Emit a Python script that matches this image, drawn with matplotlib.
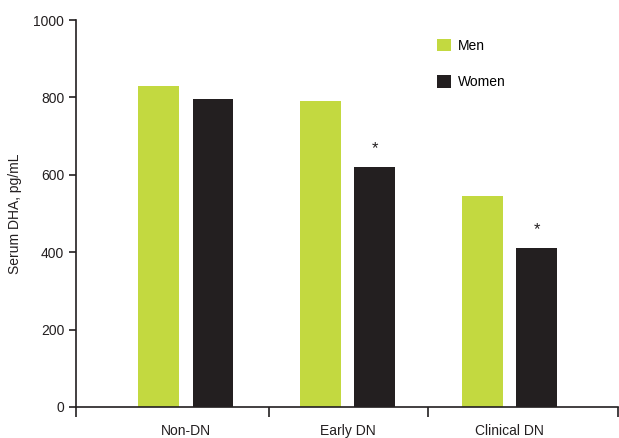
import numpy as np
import matplotlib
matplotlib.use("Agg")
import matplotlib.pyplot as plt

plt.rcParams["font.family"] = ["Liberation Sans", "DejaVu Sans"]

groups = ["Non-DN", "Early DN", "Clinical DN"]
men = [830, 790, 545]
women = [795, 620, 410]
women_sig = [False, True, True]

GREEN = "#c3d940"
DARK = "#231f20"

fig = plt.figure(figsize=(6.19, 4.38), dpi=100)
ax = fig.add_axes([0.1228, 0.0708, 0.8752, 0.8835])

x = np.arange(len(groups))
w = 0.253
off = 0.167
ax.bar(x - off, men, width=w, color=GREEN, label="Men")
ax.bar(x + off, women, width=w, color=DARK, label="Women")

for xi, v, sig in zip(x, women, women_sig):
    if sig:
        ax.annotate("*", (xi + off, v), xytext=(0, 8), textcoords="offset points",
                    ha="center", va="bottom", fontsize=12, color=DARK)

ax.set_xlim(-0.679, 2.667)
ax.set_ylim(0, 1000)
ax.set_yticks(np.arange(0, 1001, 200))

# group separators as major ticks, names as minor ticks
ax.set_xticks([-0.679, 0.51, 1.496, 2.667])
ax.set_xticklabels([])
ax.set_xticks(x, minor=True)
ax.set_xticklabels(groups, minor=True)
ax.tick_params(axis="x", which="major", direction="out", length=7, width=1.2, color=DARK)
ax.tick_params(axis="x", which="minor", length=0, pad=12, labelsize=10, labelcolor=DARK)
ax.tick_params(axis="y", direction="out", length=5, width=1.2, color=DARK, labelsize=10,
               labelcolor=DARK)

for s in ["top", "right"]:
    ax.spines[s].set_visible(False)
for s in ["left", "bottom"]:
    ax.spines[s].set_linewidth(1.2)
    ax.spines[s].set_color(DARK)

ax.set_ylabel("Serum DHA, pg/mL", fontsize=10, color=DARK, labelpad=8)

ax.legend(loc="upper left", bbox_to_anchor=(437 / 619, 1 - 39 / 438),
          bbox_transform=fig.transFigure, frameon=False, fontsize=10,
          handlelength=1.0, handleheight=1.0, handletextpad=0.5,
          labelspacing=1.6, borderpad=0, borderaxespad=0)

fig.savefig("out.png", dpi=100)
